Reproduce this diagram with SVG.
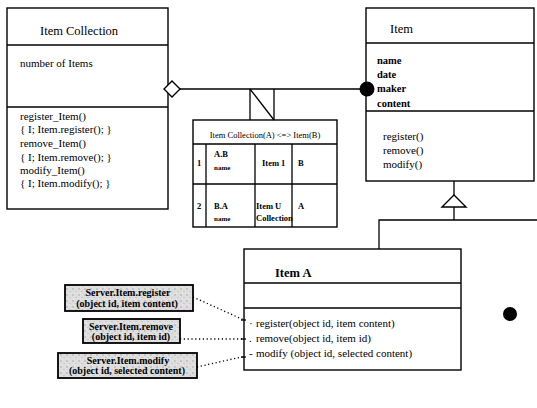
<svg xmlns="http://www.w3.org/2000/svg" width="537" height="408" viewBox="0 0 537 408">
  <defs>
    <pattern id="grain" width="6" height="6" patternUnits="userSpaceOnUse">
      <rect width="6" height="6" fill="#dedede"/>
      <circle cx="1" cy="1" r="0.7" fill="#9a9a9a"/>
      <circle cx="4" cy="3.5" r="0.6" fill="#b0b0b0"/>
      <circle cx="2.5" cy="5" r="0.5" fill="#f4f4f4"/>
    </pattern>
  </defs>
  <style>
    .box { fill: #fff; stroke: #000; stroke-width: 1.4; }
    .ln { fill: none; stroke: #000; stroke-width: 1.3; }
    .dot { fill: none; stroke: #000; stroke-width: 1.3; stroke-dasharray: 1.2 2.6; }
    .note { fill: url(#grain); stroke: #000; stroke-width: 1.8; }
    text { font-family: "Liberation Serif", "Times New Roman", serif; fill: #000; }
    .title { font-size: 12.5px; }
    .body { font-size: 11px; }
    .attr { font-size: 10.5px; font-weight: bold; }
    .tbl { font-size: 8.5px; }
    .tsm { font-size: 7px; font-weight: bold; }
    .nt { font-size: 10px; font-weight: bold; text-anchor: middle; }
  </style>
  <rect width="537" height="408" fill="#fff"/>

  <!-- Item Collection class -->
  <g id="item-collection">
    <rect class="box" x="7" y="8" width="161" height="201"/>
    <line class="ln" x1="7" y1="45" x2="168" y2="45"/>
    <line class="ln" x1="7" y1="107" x2="168" y2="107"/>
    <text class="title" x="40" y="35">Item Collection</text>
    <text class="body" x="20" y="67">number of Items</text>
    <text class="body" x="20" y="120">register_Item()</text>
    <text class="body" x="20" y="133">{ I; Item.register(); }</text>
    <text class="body" x="20" y="147">remove_Item()</text>
    <text class="body" x="20" y="161">{ I; Item.remove(); }</text>
    <text class="body" x="20" y="174">modify_Item()</text>
    <text class="body" x="20" y="187">{ I; Item.modify(); }</text>
  </g>

  <!-- link attribute table -->
  <g id="link-table">
    <rect class="box" x="193" y="120" width="144" height="107"/>
    <line class="ln" x1="193" y1="144" x2="337" y2="144"/>
    <line class="ln" x1="193" y1="184" x2="337" y2="184"/>
    <line class="ln" x1="206" y1="144" x2="206" y2="227"/>
    <line class="ln" x1="255" y1="144" x2="255" y2="227"/>
    <line class="ln" x1="292" y1="144" x2="292" y2="227"/>
    <text class="tbl" x="265" y="138" text-anchor="middle">Item Collection(A) &lt;=&gt; Item(B)</text>
    <text class="tbl" x="197" y="166" font-weight="bold">1</text>
    <text class="tbl" x="214" y="157" font-weight="bold">A.B</text>
    <text class="tsm" x="214" y="170">name</text>
    <text class="tbl" x="262" y="166" font-weight="bold">Item  1</text>
    <text class="tbl" x="298" y="166" font-weight="bold">B</text>
    <text class="tbl" x="197" y="209" font-weight="bold">2</text>
    <text class="tbl" x="214" y="209" font-weight="bold">B.A</text>
    <text class="tsm" x="214" y="221">name</text>
    <text class="tbl" x="256" y="209" font-weight="bold">Item   U</text>
    <text class="tbl" x="256" y="221" font-weight="bold">Collection</text>
    <text class="tbl" x="298" y="209" font-weight="bold">A</text>
  </g>

  <!-- Item class -->
  <g id="item">
    <rect class="box" x="366" y="8" width="168" height="173"/>
    <line class="ln" x1="366" y1="43" x2="534" y2="43"/>
    <line class="ln" x1="366" y1="111" x2="534" y2="111"/>
    <text class="title" x="390" y="33">Item</text>
    <text class="attr" x="377" y="64">name</text>
    <text class="attr" x="377" y="78">date</text>
    <text class="attr" x="377" y="92">maker</text>
    <text class="attr" x="377" y="107">content</text>
    <text class="body" x="383" y="140">register()</text>
    <text class="body" x="383" y="154">remove()</text>
    <text class="body" x="383" y="168">modify()</text>
  </g>

  <!-- Item A class -->
  <g id="item-a">
    <rect class="box" x="244" y="249" width="217" height="121"/>
    <line class="ln" x1="244" y1="283" x2="461" y2="283"/>
    <line class="ln" x1="244" y1="308" x2="461" y2="308"/>
    <text class="title" x="275" y="277" font-weight="bold">Item A</text>
    <text class="body" x="249" y="327">·</text>
    <text class="body" x="256" y="327">register(object id, item content)</text>
    <text class="body" x="249" y="342">.</text>
    <text class="body" x="256" y="342">remove(object id, item id)</text>
    <text class="body" x="249" y="357">-</text>
    <text class="body" x="256" y="357">modify (object id, selected content)</text>
  </g>

  <!-- free marker dot -->
  <g id="marker-dot">
    <circle cx="510" cy="314" r="7" fill="#000"/>
  </g>

  <!-- server call notes -->
  <g id="note-register">
    <rect class="note" x="65" y="285" width="128" height="26"/>
    <text class="nt" x="128" y="296">Server.Item.register</text>
    <text class="nt" x="127" y="307">(object id, item content)</text>
  </g>
  <g id="note-remove">
    <rect class="note" x="83" y="319" width="97" height="24"/>
    <text class="nt" x="131" y="330">Server.Item.remove</text>
    <text class="nt" x="131" y="340">(object id, item id)</text>
  </g>
  <g id="note-modify">
    <rect class="note" x="58" y="353" width="139" height="25"/>
    <text class="nt" x="128" y="364">Server.Item.modify</text>
    <text class="nt" x="127" y="374">(object id, selected content)</text>
  </g>

  <!-- connectors -->
  <g id="connectors">
    <!-- aggregation: Item Collection to Item -->
    <line class="ln" x1="179" y1="89" x2="362" y2="89"/>
    <polygon points="164,89 172,81 180,89 172,97" fill="#fff" stroke="#000" stroke-width="1.4"/>
    <circle cx="367" cy="89" r="7.5" fill="#000"/>
    <!-- link attribute notch -->
    <polyline class="ln" points="250,89 250,120"/>
    <polyline class="ln" points="274,89 274,120"/>
    <line class="ln" x1="250" y1="89" x2="274" y2="120"/>
    <!-- generalization: Item A to Item -->
    <line class="ln" x1="454" y1="181" x2="454" y2="195"/>
    <polygon points="454,195 442,207 466,207" fill="#fff" stroke="#000" stroke-width="1.4"/>
    <polyline class="ln" points="454,207 454,220"/>
    <polyline class="ln" points="379,249 379,220 537,220"/>
    <!-- server call notes to Item A operations -->
    <polyline class="dot" points="193,297 244,320"/>
    <polyline class="dot" points="180,339 244,339"/>
    <polyline class="dot" points="197,367 237,358 244,357"/>
    <line class="ln" x1="241" y1="320" x2="246" y2="320"/>
    <line class="ln" x1="241" y1="339" x2="246" y2="339"/>
    <line class="ln" x1="241" y1="357" x2="246" y2="357"/>
  </g>
</svg>
